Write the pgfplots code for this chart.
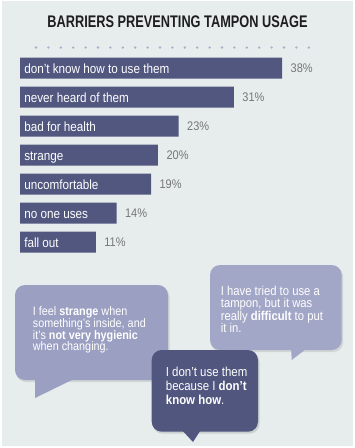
\documentclass[border=0pt]{standalone}
\usepackage{pgfplots}
\pgfplotsset{compat=1.18}
\usepackage{fontspec}
\setmainfont{Liberation Sans}
\newfontfamily\cf[FakeStretch=0.88]{Liberation Sans}
\newfontfamily\tf[FakeStretch=0.76]{Liberation Sans}
\definecolor{bg}{HTML}{E7EDED}
\definecolor{barc}{HTML}{51577F}
\definecolor{pct}{HTML}{767676}
\definecolor{dotc}{HTML}{A9AFC6}
\definecolor{bubA}{HTML}{9B9FC1}
\definecolor{bubB}{HTML}{A3A7C7}
\definecolor{bubC}{HTML}{51567E}
\definecolor{ttl}{HTML}{1E1E1E}
\begin{document}
\begin{tikzpicture}
\fill[white] (0pt,0pt) rectangle (355pt,-448pt);
\fill[bg] (2pt,-1pt) rectangle (353pt,-446pt);
% title
\node[anchor=center, inner sep=0, text=ttl, font={\tf\bfseries\fontsize{16.8}{18}\selectfont}] at (177.5pt,-22pt) {BARRIERS PREVENTING TAMPON USAGE};
\draw[dotc, line width=2.6pt, line cap=round, dash pattern=on 0pt off 12.4pt] (36pt,-47.5pt) -- (321pt,-47.5pt);
% bars
\begin{axis}[at={(20pt,-53.5pt)}, anchor=north west, scale only axis,
  width=276pt, height=203pt,
  xbar, bar width=21pt, axis on top,
  xmin=0, xmax=40, ymin=-0.5, ymax=6.5, y dir=reverse,
  axis line style={draw=none}, tick style={draw=none},
  xtick=\empty, ytick={0,...,6},
  yticklabels={don’t know how to use them, never heard of them, bad for health, strange, uncomfortable, no one uses, fall out},
  yticklabel style={anchor=west, xshift=5pt, text=white, text height=11pt, text depth=0pt, font={\cf\fontsize{13.3}{15}\selectfont}},
  point meta=x,
  /pgf/number format/assume math mode=true,
  nodes near coords={\pgfmathprintnumber[assume math mode=true]{\pgfplotspointmeta}\%},
  nodes near coords style={anchor=west, xshift=5pt, text=pct, text height=9.6pt, text depth=0pt, font={\cf\fontsize{12.5}{14}\selectfont}},
  clip=false]
\addplot[fill=barc, draw=none] coordinates {(38,0) (31,1) (23,2) (20,3) (19,4) (14,5) (11,6)};
\end{axis}
% bubble 1
\fill[black, opacity=0.10, rounded corners=10pt] (16pt,-287pt) rectangle (169.5pt,-382pt);
\fill[bubA, rounded corners=10pt] (15pt,-285pt) rectangle (168pt,-380pt);
\fill[bubA] (35pt,-376pt) -- (35pt,-398pt) -- (80pt,-376pt) -- cycle;
\node[anchor=north west, inner sep=0, align=left, text=white, font={\cf\fontsize{12.3}{11.7}\selectfont}] at (32.7pt,-306.5pt)
 {I feel \textbf{strange} when\\something’s inside, and\\it’s \textbf{not very hygienic}\\when changing.};
% bubble 2
\fill[black, opacity=0.10, rounded corners=10pt] (211pt,-267pt) rectangle (343.2pt,-352pt);
\fill[bubB, rounded corners=10pt] (210pt,-265pt) rectangle (341.7pt,-350pt);
\fill[bubB] (291pt,-346pt) -- (291.7pt,-360pt) -- (310pt,-346pt) -- cycle;
\node[anchor=north west, inner sep=0, align=left, text=white, font={\cf\fontsize{12.8}{12.4}\selectfont}] at (220.7pt,-286pt)
 {I have tried to use a\\tampon, but it was\\really \textbf{difficult} to put\\it in.};
% bubble 3
\fill[black, opacity=0.12, rounded corners=10pt] (152.7pt,-352pt) rectangle (259.5pt,-433.7pt);
\fill[bubC, rounded corners=10pt] (151.7pt,-350pt) rectangle (258pt,-431.7pt);
\fill[bubC] (180pt,-428pt) -- (193pt,-442pt) -- (202pt,-428pt) -- cycle;
\node[anchor=north west, inner sep=0, align=left, text=white, font={\cf\fontsize{13}{14}\selectfont}] at (165.7pt,-366.7pt)
 {I don’t use them\\because I \textbf{don’t}\\\textbf{know how}.};
\pgfresetboundingbox
\path (0pt,0pt) rectangle (355pt,-448pt);
\end{tikzpicture}
\end{document}
